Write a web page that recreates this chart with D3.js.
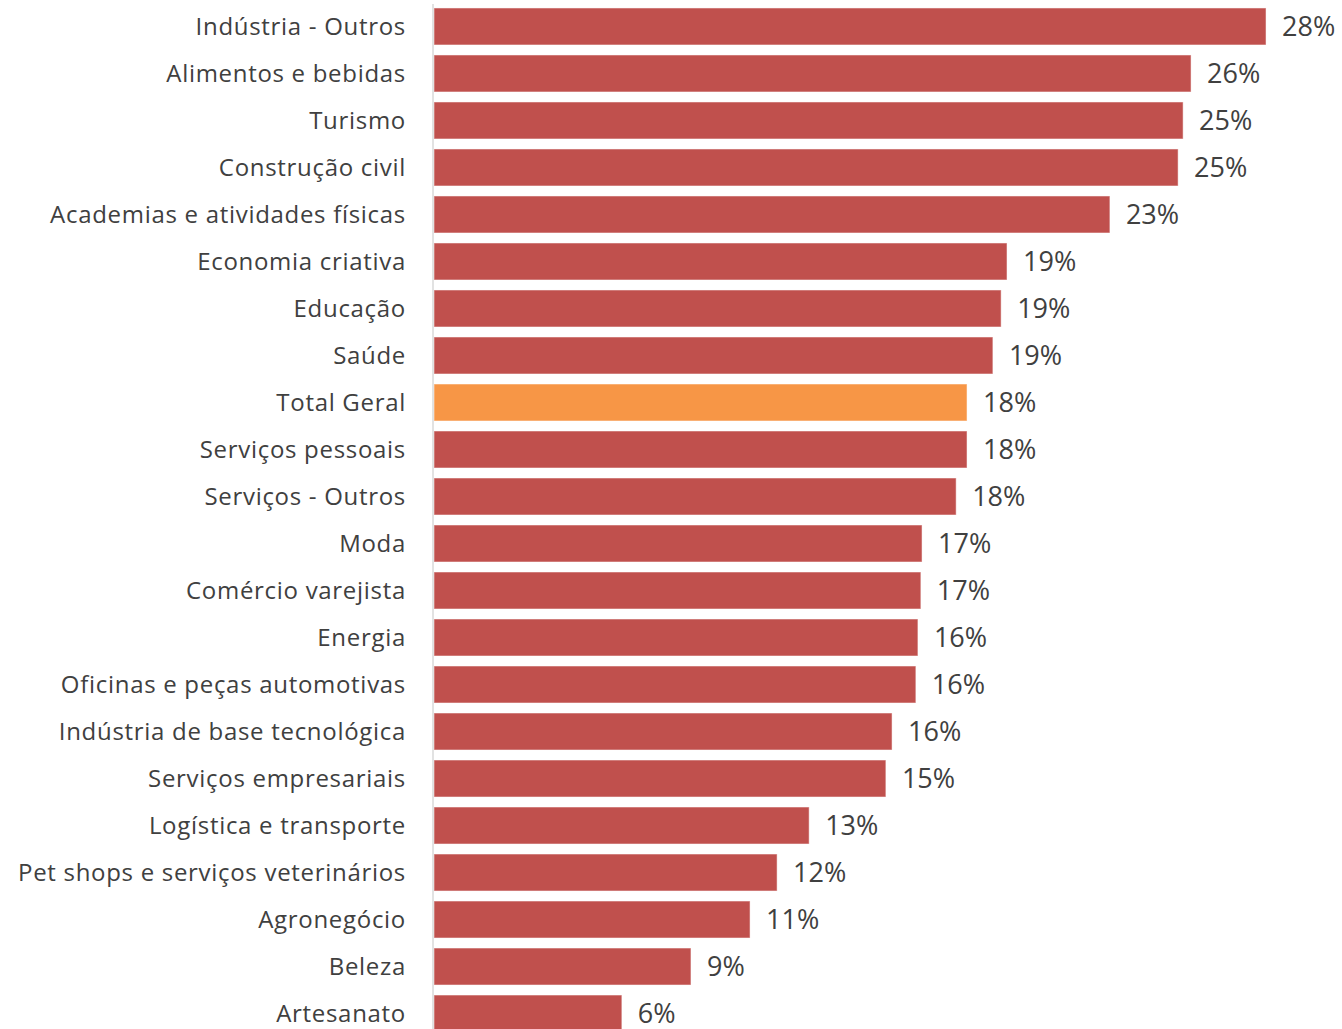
<!DOCTYPE html>
<html>
<head>
<meta charset="utf-8">
<script src="https://cdn.jsdelivr.net/npm/d3@7"></script>
<style>
  body { margin: 0; background: #fff; }
  text { font-family: "Open Sans", "Noto Sans", sans-serif; fill: #404040; }
</style>
</head>
<body>
<div id="chart"></div>
<script>
// Data
const categories = [
    "Indústria - Outros", "Alimentos e bebidas", "Turismo", "Construção civil",
    "Academias e atividades físicas", "Economia criativa", "Educação", "Saúde",
    "Total Geral", "Serviços pessoais", "Serviços - Outros", "Moda",
    "Comércio varejista", "Energia", "Oficinas e peças automotivas",
    "Indústria de base tecnológica", "Serviços empresariais", "Logística e transporte",
    "Pet shops e serviços veterinários", "Agronegócio", "Beleza", "Artesanato"
];
const values = [
    28.3, 25.75, 25.48, 25.31,
    22.99, 19.49, 19.29, 19.01,
    18.13, 18.13, 17.76, 16.6,
    16.56, 16.46, 16.39,
    15.58, 15.37, 12.76,
    11.67, 10.75, 8.74, 6.39
];
const highlight = "Total Geral";

const WIDTH = 1342;
const HEIGHT = 1029;
const X0 = 434;
const PX_PER_PCT = 29.4;

const svg = d3.select("#chart")
    .append("svg")
    .attr("width", WIDTH)
    .attr("height", HEIGHT);

const x = d3.scaleLinear()
    .domain([0, 30])
    .range([X0, X0 + 30 * PX_PER_PCT]);

const y = d3.scaleBand()
    .domain(categories)
    .range([3, 3 + 22 * 47])
    .paddingInner(0.213)
    .paddingOuter(0.106);

const data = categories.map((c, i) => ({ cat: c, val: values[i] }));

// Bars
svg.selectAll(".bar")
    .data(data)
    .enter()
    .append("rect")
    .attr("class", "bar")
    .attr("x", x(0))
    .attr("y", d => y(d.cat))
    .attr("width", d => x(d.val) - x(0))
    .attr("height", y.bandwidth())
    .attr("fill", d => d.cat === highlight ? "#F79646" : "#C0504D")
    .attr("stroke", "#fff")
    .attr("stroke-opacity", 0.5)
    .attr("stroke-width", 1);

// Axis line
svg.append("line")
    .attr("x1", x(0) - 1)
    .attr("x2", x(0) - 1)
    .attr("y1", 4)
    .attr("y2", HEIGHT)
    .attr("stroke", "#d9d9d9")
    .attr("stroke-width", 1.5);

// Category labels
svg.selectAll(".cat-label")
    .data(data)
    .enter()
    .append("text")
    .attr("class", "cat-label")
    .attr("x", 406)
    .attr("y", d => y(d.cat) + y.bandwidth() / 2)
    .attr("dy", "0.35em")
    .attr("text-anchor", "end")
    .style("font-size", "24px")
    .style("letter-spacing", "0.7px")
    .text(d => d.cat);

// Value labels
svg.selectAll(".val-label")
    .data(data)
    .enter()
    .append("text")
    .attr("class", "val-label")
    .attr("x", d => x(d.val) + 16)
    .attr("y", d => y(d.cat) + y.bandwidth() / 2)
    .attr("dy", "0.35em")
    .style("font-size", "27px")
    .text(d => Math.round(d.val) + "%");
</script>
</body>
</html>
